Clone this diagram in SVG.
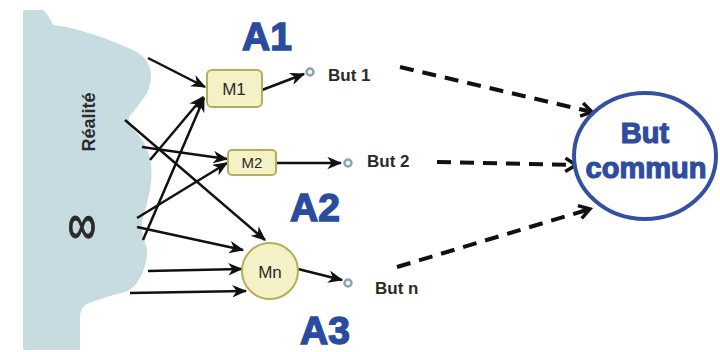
<svg xmlns="http://www.w3.org/2000/svg" width="720" height="352" viewBox="0 0 720 352">
<defs>
<style>
.reality{fill:#c6dce0;stroke:none}
.box{fill:#f5f1c7;stroke:#b3ae58;stroke-width:2}
.lbl{font-family:"Liberation Sans",Arial,sans-serif;fill:#2a2a2a;text-anchor:middle}
.but{font-family:"Liberation Sans",Arial,sans-serif;font-weight:bold;font-size:17px;fill:#2a2a2a}
.big{font-family:"Liberation Sans",Arial,sans-serif;font-weight:bold;font-size:39px;fill:#2b4c9e;stroke:#2b4c9e;stroke-width:1.5}
.goal{fill:#f0f4f5;stroke:#8ea4ab;stroke-width:2.5}
.in{stroke:#111;stroke-width:2.5;fill:none;marker-end:url(#ah)}
.dash{stroke:#111;stroke-width:4;fill:none;stroke-dasharray:14 9;marker-end:url(#ch)}
.common{fill:#fff;stroke:#3450a0;stroke-width:4}
.ctext{font-family:"Liberation Sans",Arial,sans-serif;font-weight:bold;font-size:29px;fill:#2e4d9f;stroke:#2e4d9f;stroke-width:1.2;text-anchor:middle}
</style>
<marker id="ah" viewBox="0 0 12 10" refX="11" refY="5" markerWidth="6" markerHeight="5" orient="auto" markerUnits="strokeWidth">
<path d="M0,0 L12,5 L0,10 L3.5,5 Z" fill="#111"/>
</marker>
<marker id="ch" viewBox="0 0 12 12" refX="10" refY="6" markerWidth="4" markerHeight="4" orient="auto" markerUnits="strokeWidth">
<polyline points="2,1 10,6 2,11" fill="none" stroke="#111" stroke-width="2.6"/>
</marker>
</defs>
<rect width="720" height="352" fill="#fff"/>

<g id="reality">
<path class="reality" d="M23,10 L43,10 Q48,14 53,25 L67,27 Q100,35 133,50 Q146,56 150,68 Q153,80 147,93 Q140,104 129,117 Q128,123 133,129 Q146,142 150,158 Q153,172 150,190 Q146,208 142,222 Q141,235 147,248 Q148,262 140,278 Q134,289 125,292 Q100,298 85,305 Q80,310 80,318 L80,350 L23,350 Z"/>
<text class="lbl" font-weight="bold" font-size="18" transform="translate(95,122) rotate(-90)">Réalité</text>
<text class="lbl" font-size="40" stroke="#2a2a2a" stroke-width="0.8" transform="translate(82,229) scale(1,1.45)" x="0" y="10">∞</text>
</g>

<g id="A1"><text class="big" x="242" y="50">A1</text></g>
<g id="A2"><text class="big" x="290" y="221">A2</text></g>
<g id="A3"><text class="big" x="300" y="344">A3</text></g>

<g id="connectors">
<line class="in" x1="148" y1="58" x2="205" y2="87"/>
<line class="in" x1="150" y1="160" x2="203" y2="97"/>
<line class="in" x1="143" y1="240" x2="204" y2="98"/>
<line class="in" x1="142" y1="147" x2="227" y2="159"/>
<line class="in" x1="137" y1="218" x2="227" y2="163"/>
<line class="in" x1="125" y1="120" x2="265" y2="240"/>
<line class="in" x1="137" y1="227" x2="243" y2="250"/>
<line class="in" x1="148" y1="271" x2="242" y2="269"/>
<line class="in" x1="130" y1="293" x2="246" y2="291"/>
<line class="in" x1="262" y1="90" x2="304" y2="74"/>
<line class="in" x1="276" y1="163" x2="341" y2="163"/>
<line class="in" x1="298" y1="269" x2="342" y2="280"/>
<line class="dash" x1="400" y1="67" x2="592" y2="112"/>
<line class="dash" x1="437" y1="162" x2="576" y2="165"/>
<line class="dash" x1="397" y1="267" x2="590" y2="209"/>
</g>

<g id="M1">
<rect class="box" x="207" y="70" width="55" height="37" rx="5"/>
<text class="lbl" font-size="17" x="234" y="95">M1</text>
</g>
<g id="M2">
<rect class="box" x="228" y="150" width="48" height="25" rx="4"/>
<text class="lbl" font-size="15" x="252" y="168">M2</text>
</g>
<g id="Mn">
<circle class="box" cx="270" cy="271" r="28"/>
<text class="lbl" font-size="17" x="270" y="278">Mn</text>
</g>

<g id="but1">
<circle class="goal" cx="310" cy="72" r="3.5"/>
<text class="but" x="328" y="81">But 1</text>
</g>
<g id="but2">
<circle class="goal" cx="348" cy="163" r="3.5"/>
<text class="but" x="367" y="167">But 2</text>
</g>
<g id="butn">
<circle class="goal" cx="348" cy="283" r="3.5"/>
<text class="but" x="375" y="294">But n</text>
</g>

<g id="butcommun">
<ellipse class="common" cx="645" cy="156" rx="71" ry="63"/>
<text class="ctext" x="645" y="143">But</text>
<text class="ctext" x="646" y="178">commun</text>
</g>
</svg>
